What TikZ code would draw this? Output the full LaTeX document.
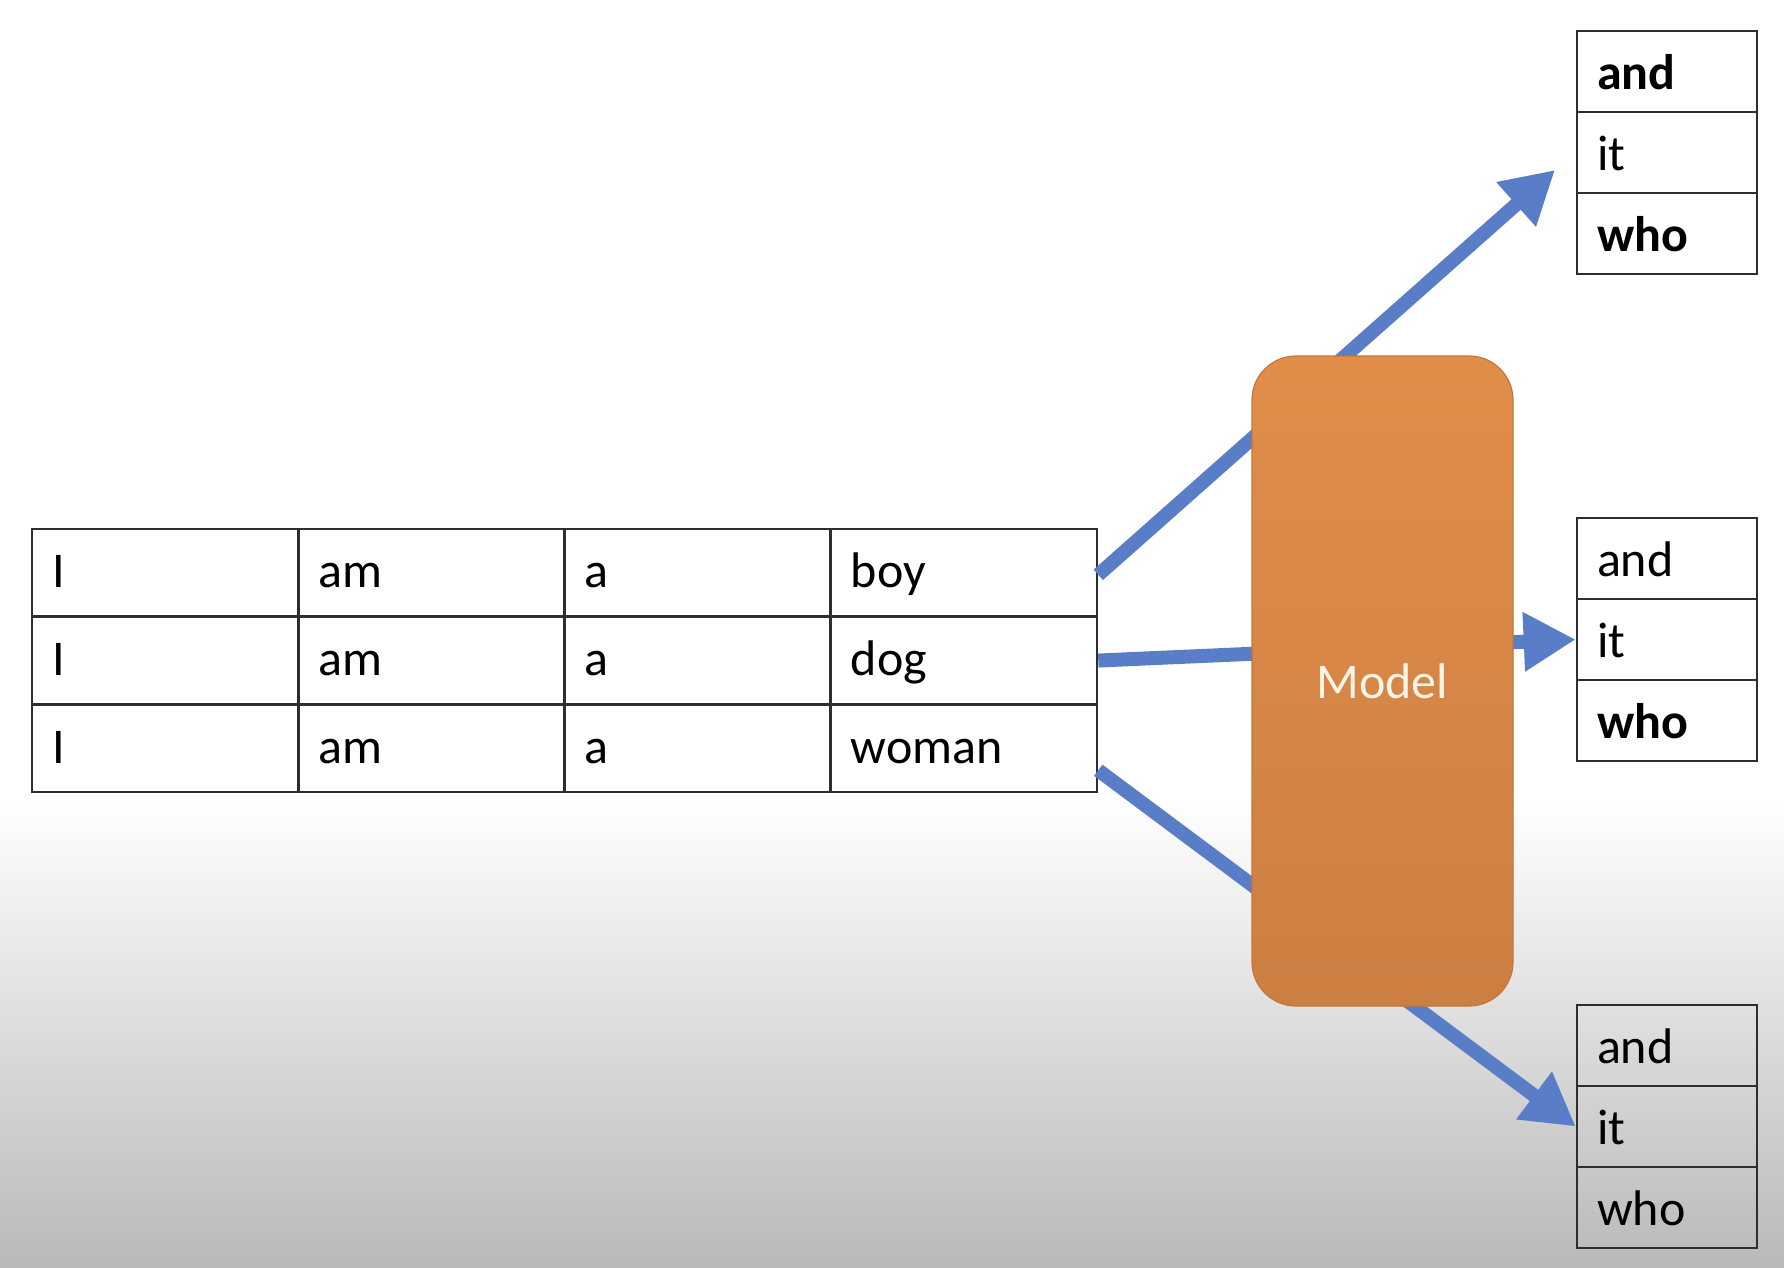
\documentclass[tikz,border=0pt]{standalone}
\usepackage{fontspec}
\setmainfont{Carlito}
\usetikzlibrary{arrows.meta}
\definecolor{gridline}{RGB}{46,46,46}
\definecolor{flowblue}{RGB}{89,126,199}
\definecolor{modeltop}{RGB}{225,141,74}
\definecolor{modelmid}{RGB}{223,140,73}
\definecolor{modelbot}{RGB}{204,127,66}
\definecolor{modelline}{RGB}{196,118,58}
\definecolor{modeltext}{RGB}{253,244,232}
\definecolor{floor}{RGB}{185,185,185}
\tikzset{
  wordcell/.style={draw=gridline,line width=1.3pt,minimum width=133.1pt,minimum height=43.8pt,
    inner xsep=10pt,text width=113.1pt,align=left,text height=17pt,text depth=2pt,
    font=\fontsize{25}{30}\selectfont},
  outcell/.style={draw=gridline,line width=1.3pt,minimum width=90pt,minimum height=40.5pt,
    inner xsep=10pt,text width=70pt,align=left,text height=19pt,text depth=1pt,
    font=\fontsize{25}{30}\selectfont},
  flow/.style={draw=flowblue,line width=7pt,-{Triangle[length=26pt,width=28pt]}},
  modelbox/.style={draw=modelline,line width=0.6pt,rounded corners=22pt,
    minimum width=130.5pt,minimum height=325pt,top color=modeltop,middle color=modelmid,
    bottom color=modelbot,text=modeltext,font=\fontsize{25}{30}\selectfont}
}
\begin{document}
\begin{tikzpicture}[x=0.5pt,y=-0.5pt]
    % background
    \fill[white] (0,0) rectangle (1784,800);
    \shade[top color=white,bottom color=floor] (0,800) rectangle (1784,1268);
    % input sentences
    \foreach \w [count=\r] in {boy,dog,woman} {
      \foreach \t [count=\c] in {I,am,a,\w} {
        \node[wordcell] (c\r\c) at ({32+266.25*(\c-0.5)},{529+87.7*(\r-0.5)}) {\t};
      }
    }
    % predicted next words
    \foreach \k/\dy/\wa/\wb/\wc in {top/0/\bfseries and/it/\bfseries who,
                                    mid/487/and/it/\bfseries who,
                                    bot/974/and/it/who} {
      \node[outcell] (\k1) at (1667,{71.5+\dy}) {\wa};
      \node[outcell] (\k2) at (1667,{152.5+\dy}) {\wb};
      \node[outcell] (\k3) at (1667,{233.5+\dy}) {\wc};
    }
    \coordinate (tip) at (1555,170);
    \draw[flow] ([yshift=-1pt]c14.east) -- (tip);
    \draw[flow] (c24.east) -- (mid2.west);
    \draw[flow] ([yshift=-11pt]c34.east) -- (bot2.west);
    \node[modelbox] (model) at (1382.5,681) {Model};
  \end{tikzpicture}
\end{document}
